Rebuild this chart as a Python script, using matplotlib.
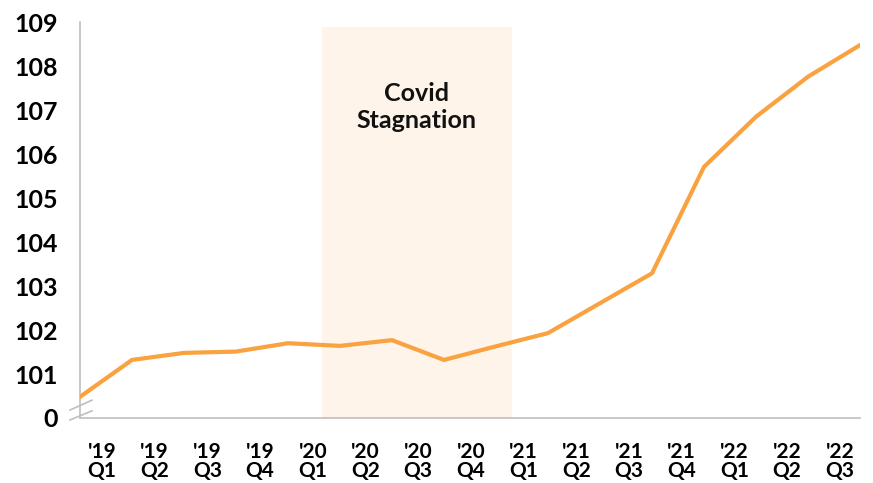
import matplotlib
matplotlib.use("Agg")
import matplotlib.pyplot as plt
from matplotlib.lines import Line2D

plt.rcParams['font.family'] = ['Lato', 'DejaVu Sans']

# index values (broken axis: bottom is shown as 0)
values = [100.48, 101.32, 101.48, 101.51, 101.70, 101.64, 101.77, 101.32,
          101.63, 101.93, 102.61, 103.29, 105.71, 106.85, 107.76, 108.48]
quarters = ["'19\nQ1", "'19\nQ2", "'19\nQ3", "'19\nQ4", "'20\nQ1", "'20\nQ2", "'20\nQ3", "'20\nQ4",
            "'21\nQ1", "'21\nQ2", "'21\nQ3", "'21\nQ4", "'22\nQ1", "'22\nQ2", "'22\nQ3"]
ytick_vals = [100, 101, 102, 103, 104, 105, 106, 107, 108, 109]
ytick_labels = ["0", "101", "102", "103", "104", "105", "106", "107", "108", "109"]
covid_start, covid_end = 4.65, 8.31

fig = plt.figure(figsize=(8.73, 4.83), dpi=100)
ax = fig.add_axes([0.0916, 0.1346, 0.8935, 0.8194])

x = list(range(len(values)))
ax.fill_between([covid_start, covid_end], 100, 108.9, color='#FEF4EA', lw=0, zorder=0)
ax.plot(x, values, color='#F9A23F', lw=3, solid_joinstyle='miter', zorder=3)
ax.text((covid_start + covid_end) / 2, 107.07, "Covid\nStagnation", ha='center', va='center',
        fontsize=18, fontweight='bold', linespacing=1.2, color='#111111')

ax.set_xlim(0, 15)
ax.set_ylim(100, 109)
ax.set_yticks(ytick_vals)
ax.set_yticklabels(ytick_labels, fontsize=18, fontweight='bold')
label_pos = [0.423 + 1.0135 * i for i in range(len(quarters))]
ax.set_xticks(label_pos)
ax.set_xticklabels(quarters, fontsize=15, fontweight='bold', linespacing=0.95)
ax.tick_params(length=0)
ax.tick_params(axis='y', pad=16)
ax.tick_params(axis='x', pad=17)

for s in ['top', 'right']:
    ax.spines[s].set_visible(False)
for s in ['left', 'bottom']:
    ax.spines[s].set_color('#BFBFBF')
    ax.spines[s].set_linewidth(1.2)

# axis break marks
for y0, y1 in [(0.02, 0.045), (-0.005, 0.018)]:
    ax.add_line(Line2D([-0.0128, 0.0154], [y0, y1], transform=ax.transAxes,
                       color='#BFBFBF', lw=1.2, clip_on=False))

fig.savefig('out.png', dpi=100)
